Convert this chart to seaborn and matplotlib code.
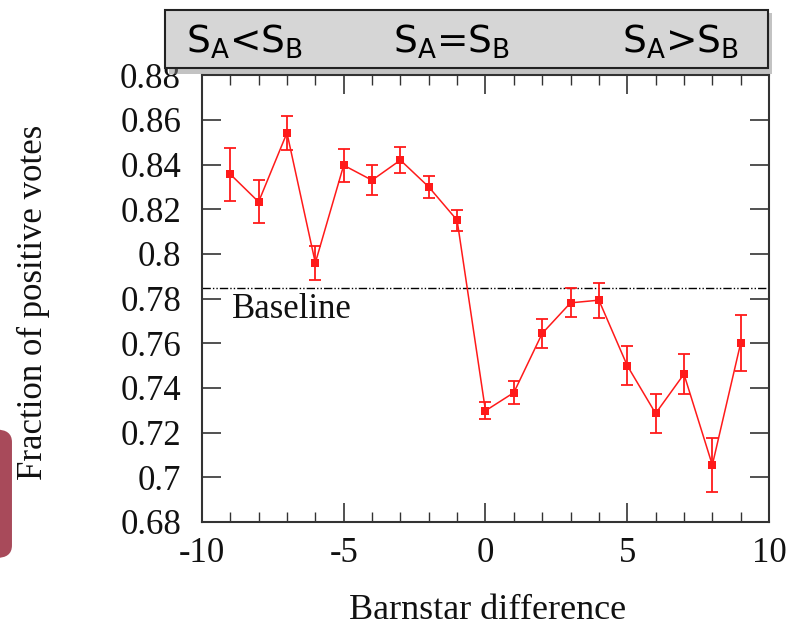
import numpy as np
import pandas as pd
import matplotlib
matplotlib.use("Agg")
import matplotlib.pyplot as plt
import seaborn as sns
from matplotlib.patches import FancyBboxPatch
from matplotlib.ticker import MultipleLocator

# ---- data ----
diff = [-9, -8, -7, -6, -5, -4, -3, -2, -1, 0, 1, 2, 3, 4, 5, 6, 7, 8, 9]
frac = [0.8357, 0.8233, 0.8542, 0.7960, 0.8397, 0.8330, 0.8420, 0.8300, 0.8151,
        0.7298, 0.7379, 0.7644, 0.7781, 0.7793, 0.7500, 0.7286, 0.7462, 0.7055, 0.7601]
err = [0.0118, 0.0096, 0.0077, 0.0077, 0.0073, 0.0067, 0.0057, 0.0050, 0.0047,
       0.0037, 0.0053, 0.0063, 0.0065, 0.0078, 0.0087, 0.0088, 0.0088, 0.0119, 0.0125]
baseline = 0.7846
xticks = [-10, -5, 0, 5, 10]
yticks = [0.68, 0.70, 0.72, 0.74, 0.76, 0.78, 0.80, 0.82, 0.84, 0.86, 0.88]
ytick_labels = ["0.68", "0.7", "0.72", "0.74", "0.76", "0.78", "0.8", "0.82", "0.84", "0.86", "0.88"]
box_labels = [r"S$_\mathregular{A}$<S$_\mathregular{B}$",
              r"S$_\mathregular{A}$=S$_\mathregular{B}$",
              r"S$_\mathregular{A}$>S$_\mathregular{B}$"]

df = pd.DataFrame({"diff": diff, "frac": frac, "err": err})

sns.set_theme(style="ticks")
plt.rcParams["font.family"] = ["Liberation Serif", "DejaVu Serif"]

fig = plt.figure(figsize=(7.98, 6.27), dpi=100)
ax = fig.add_axes([0.253, 0.1675, 0.7107, 0.7125])

red = "#ff1a1a"
ax.errorbar(df["diff"], df["frac"], yerr=df["err"], fmt="none", ecolor=red,
            elinewidth=1.3, capsize=4, capthick=1.3, zorder=3)
sns.lineplot(data=df, x="diff", y="frac", ax=ax, color=red, linewidth=1.1,
             marker="s", markersize=6, markeredgewidth=0, zorder=4)

ax.axhline(baseline, color="black", linewidth=1.0, linestyle=(0, (6, 1.5, 1, 1.5, 1, 1.5)), zorder=2)
ax.text(-8.95, 0.7752, "Baseline", fontsize=25, va="center", ha="left", color="#111111")

ax.set_xlim(-10, 10)
ax.set_ylim(0.68, 0.88)
ax.set_xticks(xticks)
ax.set_xticklabels([str(t) for t in xticks])
ax.xaxis.set_minor_locator(MultipleLocator(1))
ax.set_yticks(yticks)
ax.set_yticklabels(ytick_labels)

ax.tick_params(axis="both", which="major", direction="in", length=14, width=1.2,
               colors="#333333", labelcolor="#111111", labelsize=25,
               top=True, right=True)
ax.tick_params(axis="y", which="major", pad=15)
ax.tick_params(axis="x", which="major", pad=11)
ax.tick_params(axis="both", which="minor", direction="in", length=7, width=1.0,
               colors="#333333", top=True, right=True)
for s in ax.spines.values():
    s.set_linewidth(1.5)
    s.set_color("#333333")

ax.set_xlabel("Barnstar difference", fontsize=26, color="#111111")
ax.set_ylabel("Fraction of positive votes", fontsize=25, color="#111111")
ax.xaxis.set_label_coords(0.503, -0.162)
ax.yaxis.set_label_coords(-0.268, 0.492)

# header box
shadow = FancyBboxPatch((0.212, 0.882), 0.755, 0.098, boxstyle="square,pad=0",
                        transform=fig.transFigure, facecolor="#888888", edgecolor="none",
                        alpha=0.5, zorder=9)
fig.patches.append(shadow)
box = FancyBboxPatch((0.207, 0.8915), 0.755, 0.0925, boxstyle="square,pad=0",
                     transform=fig.transFigure, facecolor="#d6d6d6", edgecolor="#222222",
                     linewidth=1.5, zorder=10)
fig.patches.append(box)
for xpos, lab in zip([0.307, 0.566, 0.853], box_labels):
    fig.text(xpos, 0.934, lab, fontsize=27, ha="center", va="center",
             family=["DejaVu Sans"], color="black", zorder=11)

# left decorative tab
tab = FancyBboxPatch((-0.03, 0.11), 0.045, 0.205, boxstyle="round,pad=0,rounding_size=0.02",
                     transform=fig.transFigure, facecolor="#a84a5a", edgecolor="none", zorder=1)
fig.patches.append(tab)

fig.savefig("out.png", dpi=100)
